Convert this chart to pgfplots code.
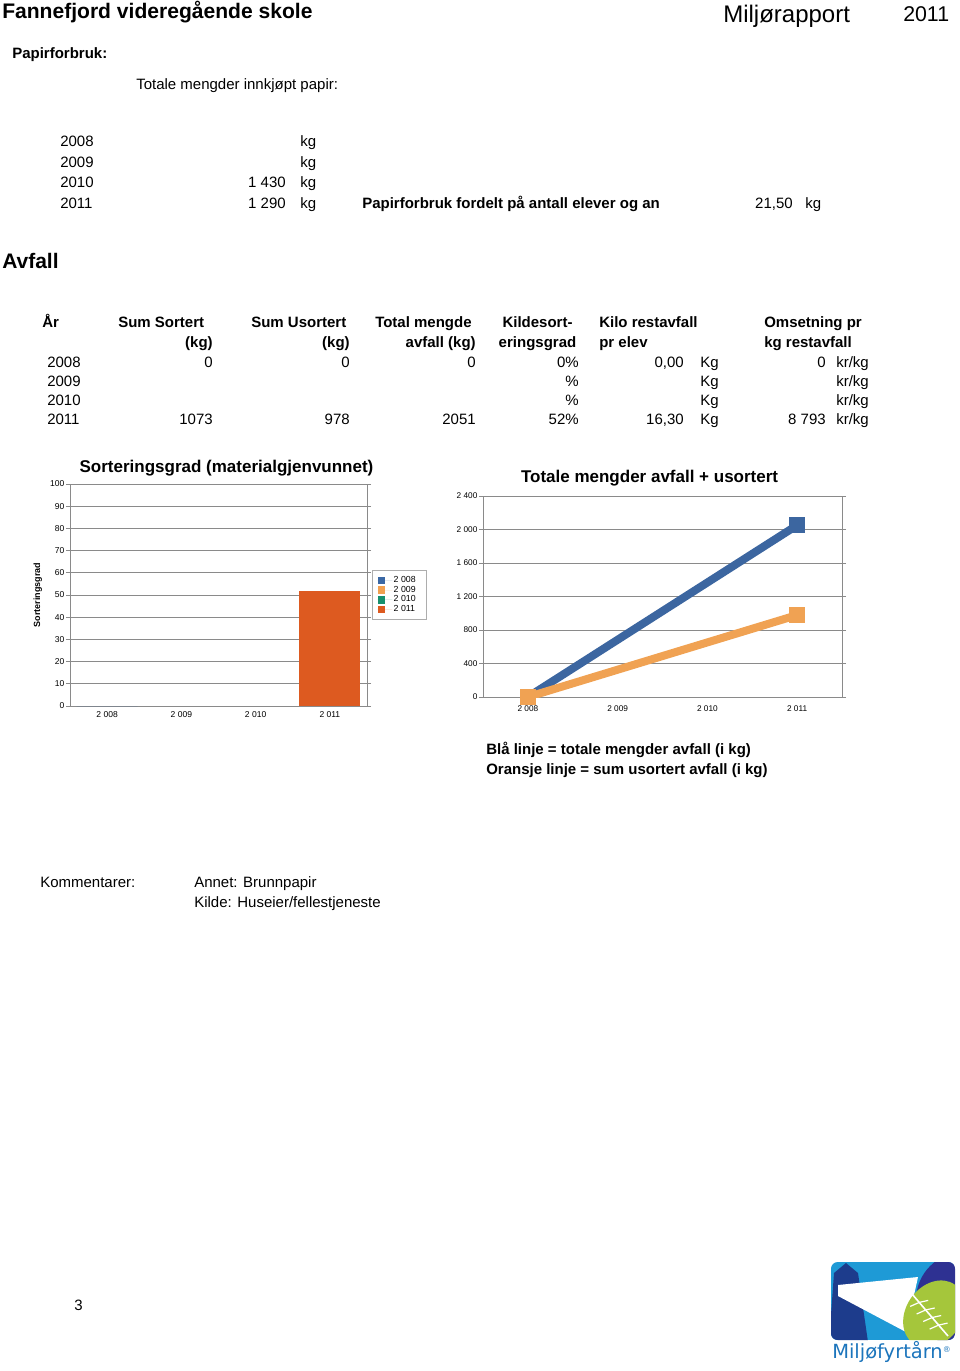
\documentclass[border=0pt]{standalone}
\usepackage{fontspec}
\setmainfont{Liberation Sans}
\newfontfamily\logofont{DejaVu Sans}
\usepackage{pgfplots}
\usetikzlibrary{calc}
\pgfplotsset{compat=1.18}
\definecolor{barblue}{HTML}{3A68A5}
\definecolor{barlorange}{HTML}{F2A050}
\definecolor{bargreen}{HTML}{17906E}
\definecolor{barred}{HTML}{DD5A20}
\definecolor{lineblue}{HTML}{3C66A0}
\definecolor{lineorange}{HTML}{F0A253}
\definecolor{gridgray}{HTML}{8A8A8A}
\definecolor{logoblue}{HTML}{1E9AD6}
\definecolor{logonavy}{HTML}{1D3C8C}
\definecolor{logodark}{HTML}{2E3192}
\definecolor{logogreen}{HTML}{A5C63B}
\definecolor{logotext}{HTML}{1C75BC}
\newcommand\fs[1]{\fontsize{#1}{#1}\selectfont}
% one row of the Avfall table: y, year, sortert, usortert, total, grad, kilo, omsetning
\newcommand\avrow[8]{%
  \node[tl] at (47,#1) {\fs{11.25}#2};
  \node[tr] at (213,#1) {\fs{11.25}#3};
  \node[tr] at (350,#1) {\fs{11.25}#4};
  \node[tr] at (476,#1) {\fs{11.25}#5};
  \node[tr] at (579,#1) {\fs{11.25}#6};
  \node[tr] at (684,#1) {\fs{11.25}#7};
  \node[tl] at (700,#1) {\fs{11.25}Kg};
  \node[tr] at (826,#1) {\fs{11.25}#8};
  \node[tl] at (836,#1) {\fs{11.25}kr/kg};
}
\newcommand\paprow[3]{%
  \node[tl] at (60,#1) {\fs{11.25}#2};
  \node[tr] at (286,#1) {\fs{11.25}#3};
  \node[tl] at (300,#1) {\fs{11.25}kg};
}

\begin{document}
\begin{tikzpicture}[x=0.75pt,y=-0.75pt]
\path[use as bounding box] (0,0) rectangle (960,1371);
\tikzset{tl/.style={anchor=base west, inner sep=0pt}, tr/.style={anchor=base east, inner sep=0pt}, tc/.style={anchor=base, inner sep=0pt}}

% header
\node[tl] at (2,18) {\fs{15.8}\bfseries Fannefjord videregående skole};
\node[tl] at (723,22) {\fs{18}Miljørapport};
\node[tl] at (903,21) {\fs{16}2011};

% paper
\node[tl] at (12,58) {\fs{11.25}\bfseries Papirforbruk:};
\node[tl] at (136,89) {\fs{11.25}Totale mengder innkjøpt papir:};
\paprow{146.5}{2008}{}
\paprow{167}{2009}{}
\paprow{187.5}{2010}{1 430}
\paprow{208}{2011}{1 290}
\node[tl] at (362,208) {\fs{11.25}\bfseries Papirforbruk fordelt på antall elever og an};
\node[tr] at (793,208) {\fs{11.25}21,50};
\node[tl] at (805,208) {\fs{11.25}kg};

% Avfall
\node[tl] at (2,268.5) {\fs{15.75}\bfseries Avfall};
\begin{scope}[every node/.append style={font=\fs{11.25}\bfseries}]
\node[tl] at (42,327.5) {År};
\node[tl] at (118,327.5) {Sum Sortert};
\node[tr] at (213,347.5) {(kg)};
\node[tl] at (251,327.5) {Sum Usortert};
\node[tr] at (350,347.5) {(kg)};
\node[tl] at (375,327.5) {Total mengde};
\node[tr] at (476,347.5) {avfall (kg)};
\node[tc] at (537.5,327.5) {Kildesort-};
\node[tc] at (537.5,347.5) {eringsgrad};
\node[tl] at (599,327.5) {Kilo restavfall};
\node[tl] at (599,347.5) {pr elev};
\node[tl] at (764,327.5) {Omsetning pr};
\node[tl] at (764,347.5) {kg restavfall};
\end{scope}
\avrow{367.5}{2008}{0}{0}{0}{0\%}{0,00}{0}
\avrow{386.5}{2009}{}{}{}{\%}{}{}
\avrow{405.5}{2010}{}{}{}{\%}{}{}
\avrow{424.5}{2011}{1073}{978}{2051}{52\%}{16,30}{8 793}

% bar chart
\begin{axis}[
  at={(52.5pt,-529.5pt)}, anchor=south west, scale only axis,
  width=222.75pt, height=166.5pt,
  xmin=-0.5, xmax=3.5, ymin=0, ymax=100,
  ybar, bar width=45.75pt,
  xtick={0,1,2,3}, xticklabels={2 008,2 009,2 010,2 011},
  ytick={0,10,...,100},
  ymajorgrids, grid style={gridgray, line width=0.75pt},
  axis line style={gridgray, line width=0.75pt},
  tick align=outside, major tick length=3pt,
  xtick style={draw=none}, ytick style={gridgray, line width=0.75pt},
  ticklabel style={font=\fs{6.4}, inner sep=1pt},
  /pgf/number format/assume math mode=true,
  title={Sorteringsgrad (materialgjenvunnet)},
  title style={font=\fs{12.75}\bfseries, at={(0.527,1)}, anchor=base, yshift=3pt, inner sep=0pt},
  ylabel={Sorteringsgrad},
  ylabel style={font=\fs{6.75}\bfseries, at={(-0.108,0.5)}, anchor=center},
  legend style={at={(1.017,0.5)}, anchor=west, draw=gridgray!70, line width=0.5pt, font=\fs{6.6}, row sep=-0.9pt, inner xsep=4pt, inner ysep=3.5pt, nodes={inner sep=1pt}, cells={anchor=west}},
  legend image code/.code={\fill[#1] (0pt,-2.8pt) rectangle (5.8pt,2.8pt); \path (0pt,0pt) -- (11pt,0pt);},
]
\addplot[fill=barblue, draw=none, bar shift=0pt] coordinates {(0,0)};
\addlegendentry{\makebox[19.5pt][l]{2 008}}
\addlegendimage{fill=barlorange, draw=none}
\addlegendentry{\makebox[19.5pt][l]{2 009}}
\addlegendimage{fill=bargreen, draw=none}
\addlegendentry{\makebox[19.5pt][l]{2 010}}
\addplot[fill=barred, draw=none, bar shift=0pt] coordinates {(3,52)};
\addlegendentry{\makebox[19.5pt][l]{2 011}}
\end{axis}

% line chart
\begin{axis}[
  at={(362.25pt,-522.75pt)}, anchor=south west, scale only axis,
  width=269.25pt, height=150.75pt,
  xmin=-0.5, xmax=3.5, ymin=0, ymax=2400,
  xtick={0,1,2,3}, xticklabels={2 008,2 009,2 010,2 011},
  ytick={0,400,...,2400}, yticklabels={0,400,800,1 200,1 600,2 000,2 400},
  ymajorgrids, grid style={gridgray, line width=0.75pt},
  axis line style={gridgray, line width=0.75pt},
  tick align=outside, major tick length=3pt,
  xtick style={draw=none}, ytick style={gridgray, line width=0.75pt},
  ticklabel style={font=\fs{6.2}, inner sep=1pt},
  xticklabel style={yshift=-2.2pt},
  title={Totale mengder avfall + usortert},
  title style={font=\fs{12.75}\bfseries, at={(0.464,1)}, anchor=base, yshift=4.5pt, inner sep=0pt},
]
\addplot[lineblue, line width=6pt, mark=square*, mark size=3pt, mark options={draw=none, fill=lineblue}] coordinates {(0,0) (3,2051)};
\addplot[lineorange, line width=6pt, mark=square*, mark size=3pt, mark options={draw=none, fill=lineorange}] coordinates {(0,0) (3,978)};
\end{axis}

% notes
\node[tl] at (486,754.5) {\fs{11.25}\bfseries Blå linje = totale mengder avfall (i kg)};
\node[tl] at (486,774.5) {\fs{11.25}\bfseries Oransje linje = sum usortert avfall (i kg)};
\node[tl] at (40,887.5) {\fs{11.25}Kommentarer:};
\node[tl] at (194,887.5) {\fs{11.25}Annet: Brunnpapir};
\node[tl] at (194,907.5) {\fs{11.25}Kilde: Huseier/fellestjeneste};
\node[tl] at (74,1310) {\fs{11.25}3};

% logo
\begin{scope}
\clip[rounded corners=5] (831,1262) rectangle (955,1340);
\fill[logoblue] (831,1262) rectangle (955,1340);
\fill[logonavy] (829,1342) -- (868,1342) -- (858,1273) -- (846,1263) -- (834,1273) -- cycle;
\fill[white] (838,1285) -- (918,1277) -- (906,1332) -- (838,1296) -- cycle;
\fill[logodark] (964,1300) circle (48);
\fill[logogreen, rotate around={-35:(934,1314)}] (934,1314) ellipse (28 and 36);
\draw[white, line width=1.2] (912,1294) -- (948,1336);
\foreach \t in {0.2,0.38,0.56,0.74}{
  \draw[white, line width=0.9] ($(912,1294)!\t!(948,1336)$) -- ++(-9,4);
  \draw[white, line width=0.9] ($(912,1294)!\t!(948,1336)$) -- ++(9,-2);
}
\end{scope}
\node[tl, text=logotext] at (832,1358) {\logofont\fs{14.6}Miljøfyrtårn\raisebox{4.5pt}{\fs{6}®}};
\end{tikzpicture}
\end{document}
